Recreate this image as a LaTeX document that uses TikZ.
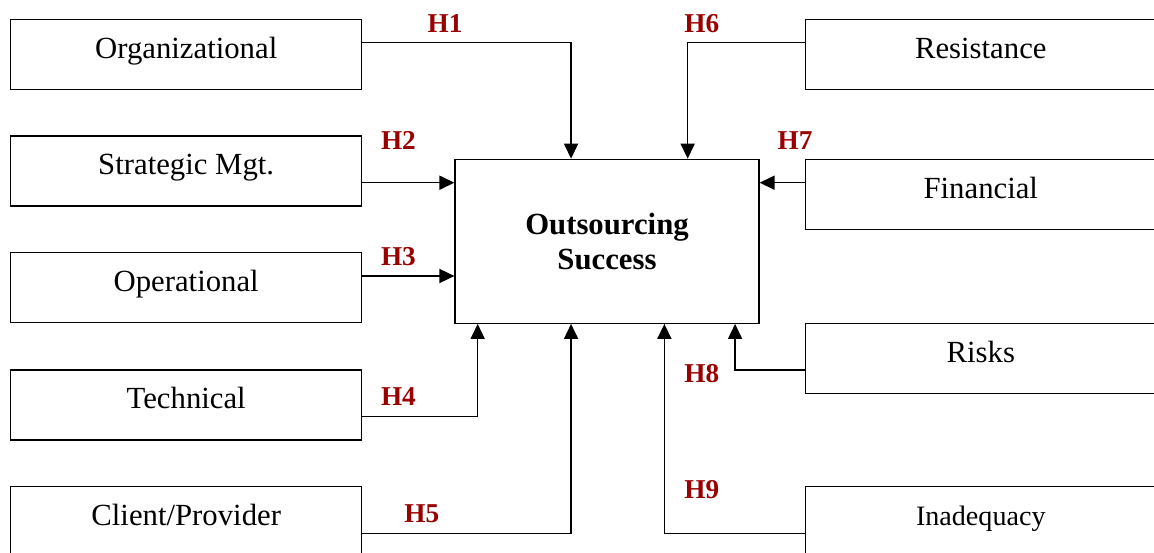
\documentclass[tikz,border=0pt]{standalone}
\usepackage{fontspec}
\setmainfont{Liberation Serif}
\usetikzlibrary{calc, arrows.meta, positioning}
\definecolor{hred}{RGB}{153,0,0}
\tikzstyle{line} = [draw, line width=0.75pt, -{Triangle[length=8.5pt,width=8pt]}]
\tikzstyle{box} = [draw, line width=0.75pt, minimum width=7.02cm, minimum height=1.4cm, inner sep=0pt, font=\fontsize{17.5}{21}\selectfont, text height=11pt, text depth=6.5pt]

\begin{document}
\begin{tikzpicture}
    [
        x=0.02cm, y=-0.02cm,
        hyp/.style={anchor=base west, inner sep=0pt, text=hred, font=\fontsize{15.5}{18}\selectfont\bfseries},
        target/.style={draw, line width=0.75pt, minimum width=6.08cm, minimum height=3.28cm, align=center, font=\fontsize{17.5}{20}\selectfont\bfseries}
    ]
    \useasboundingbox (0,0) rectangle (1154,553);
    \clip (0,0) rectangle (1154,553);

    \begin{scope}
        % left column
        \node[box] (org) at (186.2,54.3) {Organizational};
        \node[box] (strat) at (186.2,171) {Strategic Mgt.};
        \node[box] (oper) at (186.2,287.7) {Operational};
        \node[box] (tech) at (186.2,405) {Technical};
        \node[box] (client) at (186.2,521.7) {Client/Provider};

        % right column
        \node[box] (resist) at (980.8,54.3) {Resistance};
        \node[box] (fin) at (980.8,194.7) {Financial};
        \node[box] (risk) at (980.8,358.3) {Risks};
        \node[box, font=\fontsize{16}{19}\selectfont] (inadeq) at (980.8,521.7) {Inadequacy};

        \node[target] (success) at (607,241.3) {Outsourcing\\Success};

        \node[hyp] (h_1) at (427.3,32.3) {H1};
        \node[hyp] (h_2) at (380.7,149.3) {H2};
        \node[hyp] (h_3) at (380.7,265.7) {H3};
        \node[hyp] (h_4) at (380.7,405.7) {H4};
        \node[hyp] (h_5) at (404,522.7) {H5};
        \node[hyp] (h_6) at (684,32.3) {H6};
        \node[hyp] (h_7) at (777.3,149.3) {H7};
        \node[hyp] (h_8) at (684,382.7) {H8};
        \node[hyp] (h_9) at (684,499) {H9};

        % connector start points
        \coordinate (org_out) at ($(org.east)+(0,-11.7)$);
        \coordinate (strat_out) at ($(strat.east)+(0,11.7)$);
        \coordinate (oper_out) at ($(oper.east)+(0,-11.7)$);
        \coordinate (tech_out) at ($(tech.east)+(0,11.7)$);
        \coordinate (client_out) at ($(client.east)+(0,11.7)$);
        \coordinate (resist_out) at ($(resist.west)+(0,-11.7)$);
        \coordinate (fin_out) at ($(fin.west)+(0,-12)$);
        \coordinate (risk_out) at ($(risk.west)+(0,11.7)$);
        \coordinate (inadeq_out) at ($(inadeq.west)+(0,11.7)$);

        \path[line] (org_out) -| ($(success.north west)+(116.7,0)$);
        \path[line] (strat_out) -- (strat_out -| success.west);
        \path[line] (oper_out) -- (oper_out -| success.west);
        \path[line] (tech_out) -| ($(success.south west)+(23.3,0)$);
        \path[line] (client_out) -| ($(success.south west)+(116.7,0)$);

        \path[line] (resist_out) -| ($(success.north west)+(233.3,0)$);
        \path[line] (fin_out) -- (fin_out -| success.east);
        \path[line] (risk_out) -| ($(success.south west)+(280.7,0)$);
        \path[line] (inadeq_out) -| ($(success.south west)+(210,0)$);
    \end{scope}

\end{tikzpicture}
\end{document}
